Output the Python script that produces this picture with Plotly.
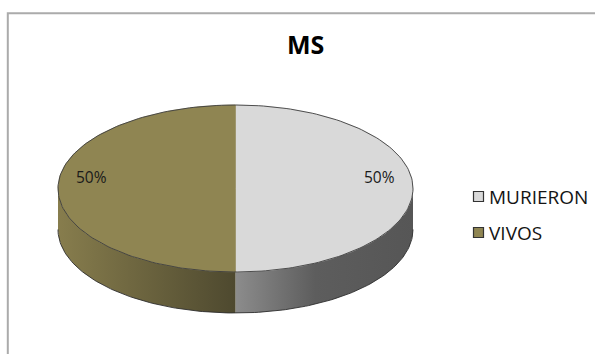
import numpy as np
import plotly.graph_objects as go

# Chart data
title = "MS"
labels = ["MURIERON", "VIVOS"]
values = [50, 50]

# Styling
top_colors = ["#d9d9d9", "#8f8552"]
side_scales = [
    [[0, "#8c8c8c"], [0.45, "#5d5d5d"], [1, "#565656"]],
    [[0, "#877d4d"], [1, "#4e492f"]],
]
FONT = "Open Sans"

# Pie geometry in pixel units (axes map 1:1 to the canvas)
W, H = 595, 354
CX, CY, RX, RY, DEPTH = 235.5, 188.5, 177.5, 83.5, 41.0


def arc(t0, t1, dy=0.0, n=90):
    """Points on the ellipse, angle measured clockwise from 12 o'clock."""
    t = np.radians(np.linspace(t0, t1, n))
    return CX + RX * np.sin(t), CY - RY * np.cos(t) + dy


total = float(sum(values))
spans = [360.0 * v / total for v in values]
starts = np.concatenate([[0.0], np.cumsum(spans)[:-1]])

fig = go.Figure()

# Front walls of the disc (only the part between 3 and 9 o'clock is visible)
for i, (a, s) in enumerate(zip(starts, spans)):
    lo, hi = max(a, 90.0), min(a + s, 270.0)
    if lo >= hi:
        continue
    xt, yt = arc(lo, hi)
    xb, yb = arc(hi, lo, dy=DEPTH)
    fig.add_trace(go.Scatter(
        x=np.concatenate([xt, xb, xt[:1]]), y=np.concatenate([yt, yb, yt[:1]]),
        mode="lines", fill="toself", line=dict(width=0),
        fillgradient=dict(type="horizontal", colorscale=side_scales[i]),
        hoverinfo="skip", showlegend=False,
    ))

# Top faces of the slices
for i, (a, s) in enumerate(zip(starts, spans)):
    xa, ya = arc(a, a + s)
    fig.add_trace(go.Scatter(
        x=np.concatenate([[CX], xa, [CX]]), y=np.concatenate([[CY], ya, [CY]]),
        mode="lines", fill="toself", fillcolor=top_colors[i],
        line=dict(width=0.6, color=top_colors[i]),
        hoverinfo="skip", showlegend=False,
    ))

# Thin outlines of the disc
edge = dict(width=0.9, color="#3c3c3c")
xo, yo = arc(0, 360, n=240)
fig.add_trace(go.Scatter(x=xo, y=yo, mode="lines", line=edge,
                         hoverinfo="skip", showlegend=False))
xb, yb = arc(90, 270, dy=DEPTH, n=160)
fig.add_trace(go.Scatter(x=xb, y=yb, mode="lines", line=dict(width=0.9, color="#2e2e2e"),
                         hoverinfo="skip", showlegend=False))

# Percentage labels on the slices
for a, s, v in zip(starts, spans, values):
    mid = np.radians(a + s / 2)
    fig.add_annotation(
        x=CX + 0.81 * RX * np.sin(mid), y=CY - 0.81 * RY * np.cos(mid) - 12,
        text=f"{v / total:.0%}", showarrow=False, xanchor="center", yanchor="middle",
        font=dict(family=FONT, size=15.5, color="#1a1a1a"),
    )

# Legend
LEG_X, LEG_Y, LEG_STEP = 478.5, 196.5, 36
for i, lab in enumerate(labels):
    fig.add_trace(go.Scatter(
        x=[LEG_X], y=[LEG_Y + i * LEG_STEP], mode="markers",
        marker=dict(symbol="square", size=10, color=top_colors[i],
                    line=dict(width=1.2, color="#333333")),
        hoverinfo="skip", showlegend=False,
    ))
    fig.add_annotation(
        x=LEG_X + 8, y=LEG_Y + i * LEG_STEP, text=lab, showarrow=False,
        xanchor="left", yanchor="middle",
        font=dict(family=FONT, size=19, color="#141414"),
    )

# Title
fig.add_annotation(
    x=305, y=44, text=f"<b>{title}</b>", showarrow=False,
    xanchor="center", yanchor="middle",
    font=dict(family=FONT, size=25, color="#000000"),
)

# Chart-area frame
fig.add_shape(type="rect", x0=7.8, y0=13.2, x1=W + 20, y1=H + 20,
              line=dict(color="#ababab", width=2), layer="below")

fig.update_layout(
    width=W, height=H, autosize=False,
    margin=dict(l=0, r=0, t=0, b=0),
    paper_bgcolor="white", plot_bgcolor="white",
    showlegend=False,
    xaxis=dict(range=[0, W], visible=False, fixedrange=True),
    yaxis=dict(range=[H, 0], visible=False, fixedrange=True),
)

fig.write_html("out.html", config={"displayModeBar": False})
